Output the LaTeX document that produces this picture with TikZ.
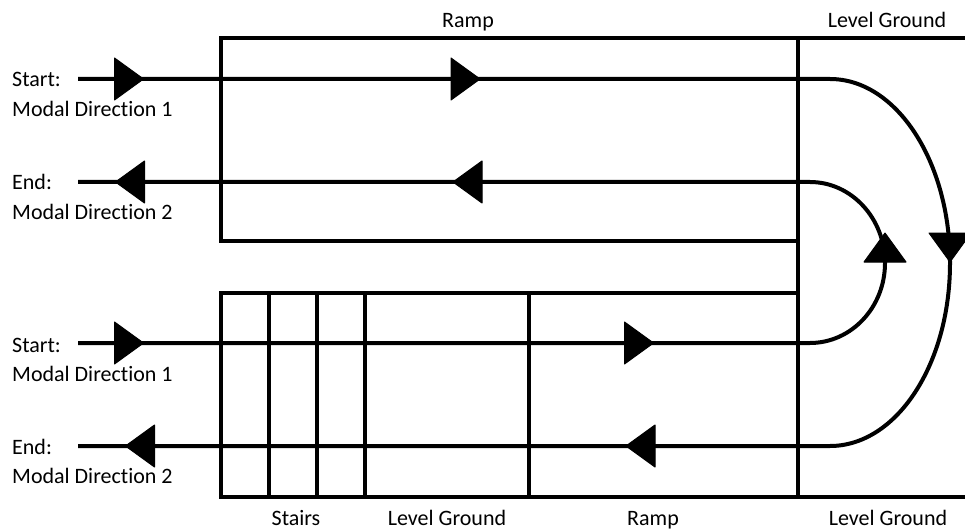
\documentclass[tikz,border=0pt]{standalone}
\usepackage{fontspec}
\setmainfont{Carlito}[Ligatures=NoCommon]
\begin{document}
\begin{tikzpicture}[x=1pt,y=-1pt,
  wall/.style={line width=4pt},
  flow/.style={line width=4pt},
  lbl/.style={inner sep=0pt, font=\fontsize{22}{26}\selectfont},
  headtri/.pic={\filldraw[line join=round, line width=1pt] (-14.5,-21) -- (14.5,0) -- (-14.5,21) -- cycle;}
]
\useasboundingbox (0,0) rectangle (965,529);

% ---- frame corners and partitions
\coordinate (tl) at (221,38);
\coordinate (tr) at (965,38);
\coordinate (tbl) at (221,241);
\coordinate (tbr) at (798,241);
\coordinate (btl) at (221,293);
\coordinate (btr) at (798,293);
\coordinate (bl) at (221,497);
\coordinate (br) at (965,497);
\coordinate (vt) at (798,38);
\coordinate (vb) at (798,497);

\draw[wall] (tr) -- (tl) -- (tbl) -- (tbr);
\draw[wall] (btr) -- (btl) -- (bl) -- (br);
\draw[wall] (vt) -- (vb);
\foreach \x/\n in {269/a,317/b,365/c,529/d}{
  \coordinate (st\n) at (\x,293);
  \coordinate (sb\n) at (\x,497);
  \draw[wall] (st\n) -- (sb\n);
}

% ---- route lines
\coordinate (s1) at (78,79);
\coordinate (s1r) at (830,79);
\coordinate (outm) at (950,263);
\coordinate (e2r) at (830,446);
\coordinate (e2) at (78,446);

\coordinate (s2) at (78,343);
\coordinate (s2r) at (810,343);
\coordinate (inm) at (885,263);
\coordinate (e1r) at (810,182);
\coordinate (e1) at (78,182);

\draw[flow] (s1) -- (s1r)
  .. controls (896.3,79) and (950,161.4) .. (outm)
  .. controls (950,364.6) and (896.3,446) .. (e2r) -- (e2);
\draw[flow] (s2) -- (s2r)
  .. controls (851.4,343) and (885,307.2) .. (inm)
  .. controls (885,218.3) and (851.4,182) .. (e1r) -- (e1);

% ---- direction heads
\pic at (129,79) {headtri};
\pic at (465.5,79) {headtri};
\pic[rotate=180] at (130,182) {headtri};
\pic[rotate=180] at (467.5,182) {headtri};
\pic at (129,343) {headtri};
\pic at (639,343) {headtri};
\pic[rotate=180] at (140,446) {headtri};
\pic[rotate=180] at (640.5,446) {headtri};
\pic[rotate=90] at (885,247.5) {headtri};
\pic[rotate=-90] at (950,247.5) {headtri};

% ---- labels
\node[lbl, anchor=base west] (ls1) at (12,87) {Start:};
\node[lbl, anchor=base west] (lm1) at (12,117) {Modal Direction 1};
\node[lbl, anchor=base west] (le1) at (12,190) {End:};
\node[lbl, anchor=base west] (lm2) at (12,219) {Modal Direction 2};
\node[lbl, anchor=base west] (ls2) at (12,352) {Start:};
\node[lbl, anchor=base west] (lm3) at (12,381) {Modal Direction 1};
\node[lbl, anchor=base west] (le2) at (12,454) {End:};
\node[lbl, anchor=base west] (lm4) at (12,483) {Modal Direction 2};

\node[lbl, anchor=base] (tramp) at (468,28) {Ramp};
\node[lbl, anchor=base] (tlevel) at (887,28) {Level Ground};
\node[lbl, anchor=base] (bstairs) at (296,525) {Stairs};
\node[lbl, anchor=base] (blevel) at (447,525) {Level Ground};
\node[lbl, anchor=base] (bramp) at (653,525) {Ramp};
\node[lbl, anchor=base] (blevel2) at (888,525) {Level Ground};
\end{tikzpicture}
\end{document}
